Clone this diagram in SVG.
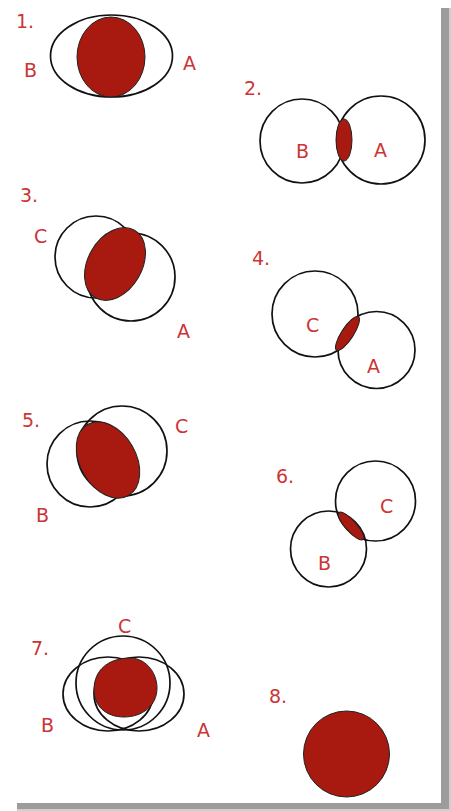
<svg xmlns="http://www.w3.org/2000/svg" width="451" height="811" viewBox="0 0 451 811">
<style>
.o{fill:none;stroke:#111;stroke-width:1.7}
.r{fill:#a8190f;stroke:#222;stroke-width:1}
text{font-family:"DejaVu Sans","Liberation Sans",sans-serif;font-size:19px;fill:#cc3535}
</style>
<rect width="451" height="811" fill="#fff"/>
<g id="shadow">
<rect x="441" y="8" width="8" height="803" fill="#9c9c9c"/>
<rect x="449" y="8" width="2" height="803" fill="#cfcfcf"/>
<rect x="17" y="803" width="432" height="6" fill="#9c9c9c"/>
<rect x="17" y="809" width="434" height="2" fill="#cfcfcf"/>
</g>
<g id="panel1">
<ellipse class="o" cx="111.5" cy="56" rx="61" ry="41"/>
<ellipse class="r" cx="111" cy="57" rx="34" ry="40"/>
<text x="16" y="28">1.</text>
<text x="24" y="77">B</text>
<text x="183" y="70">A</text>
</g>
<g id="panel2">
<circle class="o" cx="302" cy="141" r="42"/>
<circle class="o" cx="381" cy="140" r="44"/>
<ellipse class="r" cx="344" cy="140" rx="8" ry="21"/>
<text x="244" y="95">2.</text>
<text x="296" y="158">B</text>
<text x="374" y="157">A</text>
</g>
<g id="panel3">
<circle class="o" cx="96" cy="257" r="41"/>
<circle class="o" cx="131" cy="277" r="44"/>
<ellipse class="r" cx="115" cy="264" rx="39" ry="27" transform="rotate(-60 115 264)"/>
<text x="20" y="202">3.</text>
<text x="34" y="243">C</text>
<text x="177" y="338">A</text>
</g>
<g id="panel4">
<circle class="o" cx="315" cy="314" r="43"/>
<circle class="o" cx="376.5" cy="350" r="38.5"/>
<ellipse class="r" cx="347.5" cy="333.5" rx="20" ry="6" transform="rotate(-57 347.5 333.5)"/>
<text x="252" y="265">4.</text>
<text x="306" y="332">C</text>
<text x="367" y="373">A</text>
</g>
<g id="panel5">
<circle class="o" cx="122" cy="451" r="45"/>
<circle class="o" cx="90" cy="464" r="43"/>
<ellipse class="r" cx="108" cy="460" rx="41" ry="28" transform="rotate(60 108 460)"/>
<text x="22" y="427">5.</text>
<text x="175" y="433">C</text>
<text x="36" y="522">B</text>
</g>
<g id="panel6">
<circle class="o" cx="375.5" cy="501" r="40"/>
<circle class="o" cx="328.5" cy="549" r="38"/>
<ellipse class="r" cx="351" cy="526" rx="18" ry="5.5" transform="rotate(48 351 526)"/>
<text x="276" y="483">6.</text>
<text x="380" y="513">C</text>
<text x="318" y="570">B</text>
</g>
<g id="panel7">
<circle class="o" cx="123" cy="683" r="47"/>
<ellipse class="o" cx="108" cy="694" rx="45" ry="37"/>
<ellipse class="o" cx="139" cy="694" rx="45" ry="37"/>
<path class="r" d="M128 658C145 657 157 672 157 688C157 706 142 717 124 717C106 717 94 706 94 690C94 670 108 659 128 658Z"/>
<text x="31" y="655">7.</text>
<text x="118" y="633">C</text>
<text x="41" y="732">B</text>
<text x="197" y="737">A</text>
</g>
<g id="panel8">
<circle class="r" cx="346.5" cy="754" r="43"/>
<text x="269" y="703">8.</text>
</g>
</svg>
